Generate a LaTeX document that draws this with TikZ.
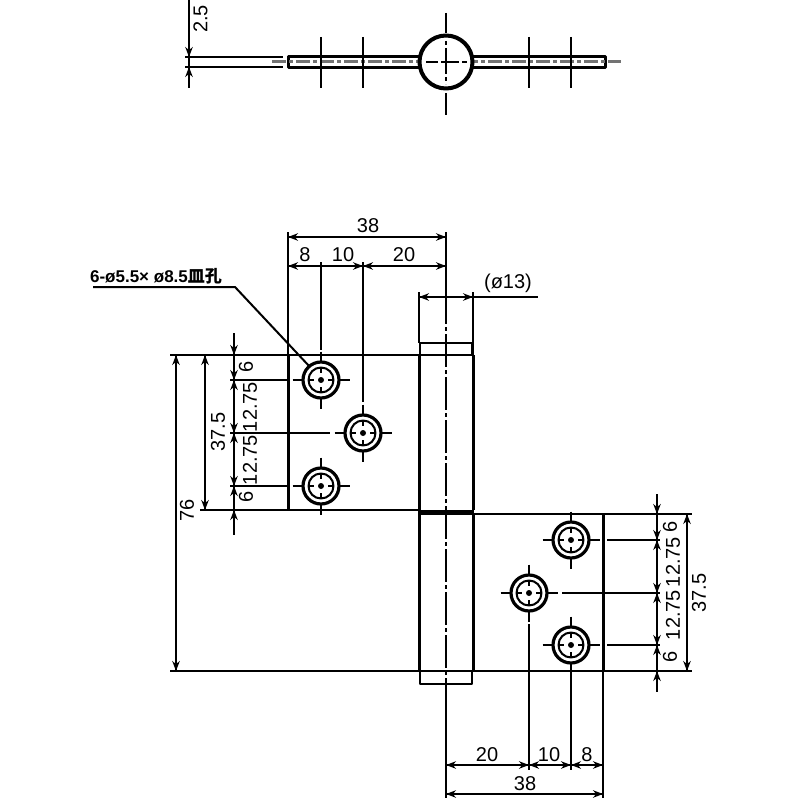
\documentclass[tikz,border=0pt]{standalone}
\usepackage{fontspec}
\setmainfont{Liberation Sans}
\newfontfamily\cjk{Noto Sans CJK JP}
\usetikzlibrary{arrows.meta}
\tikzset{
  edgeline/.style={line width=3pt},
  flatline/.style={line width=2.3pt},
  thinline/.style={line width=2pt},
  centreline/.style={line width=2pt, dash pattern=on 33pt off 3pt on 4pt off 3pt},
  dimtip/.style={line width=2pt, -{Stealth[length=10pt,width=7.5pt]}},
  dimtext/.style={font=\fontsize{20}{20}\selectfont, inner sep=0pt},
  sidetext/.style={dimtext, rotate=90}
}
\newcommand{\holemark}[2]{%
  \draw[line width=3.2pt] (#1,#2) circle (18);
  \draw[thinline] (#1,#2) circle (12.5);
  \fill (#1,#2) circle (3);
  \draw[thinline] (#1-28.5,#2)--(#1-18,#2) (#1+18,#2)--(#1+28.5,#2);
  \draw[thinline] (#1,#2-28.5)--(#1,#2-18) (#1,#2+18)--(#1,#2+28.5);
  \draw[line width=1.2pt] (#1-12,#2)--(#1-7,#2) (#1+7,#2)--(#1+12,#2) (#1,#2-12)--(#1,#2-7) (#1,#2+7)--(#1,#2+12);
}
\begin{document}
\begin{tikzpicture}[x=1pt,y=-1pt,line join=round]
\useasboundingbox (0,0) rectangle (800,800);
% top view
\draw[thinline] (185,57)--(283,57) (185,67)--(283,67);
\draw[thinline] (189,0)--(189,88);
\draw[dimtip] (189,45)--(189,57);
\draw[dimtip] (189,80)--(189,67);
\node[sidetext] (thickval) at (200.5,19) {2.5};
\draw[edgeline] (288,56.5) rectangle (605,67.5);
\draw[line width=3pt,black!55,dash pattern=on 14pt off 3pt on 4pt off 3pt] (272,62)--(621,62);
\foreach \x in {321,363,529,571} \draw[thinline] (\x,37)--(\x,88);
\draw[line width=4pt,fill=white] (446,62) circle (26.5);
\draw[thinline] (446,13)--(446,33) (446,93)--(446,115);
\draw[thinline,dash pattern=on 4pt off 3pt on 26pt off 3pt] (446,41)--(446,84);
\draw[thinline,dash pattern=on 12pt off 3pt on 18pt off 3pt] (426,62)--(467,62);
% left plate
\draw[edgeline] (288,355)--(288,510);
\draw[flatline] (288,510)--(419,510) (288,355)--(419,355);
\draw[edgeline] (419,355)--(419,510) (473,355)--(473,510);
\draw[flatline] (420,355)--(420,343)--(472,343)--(472,355)  (419,355)--(473,355);
\draw[line width=4.5pt] (418,512.5)--(474,512.5);
% right plate
\draw[edgeline] (419,514)--(419,671) (603,671)--(603,514) (473,514)--(473,671);
\draw[flatline] (419,671)--(603,671) (603,514)--(473,514);
\draw[flatline] (420,671)--(420,684)--(472,684)--(472,671);
% axis
\draw[centreline,dash phase=27pt] (446,232)--(446,707);
\draw[thinline] (446,232)--(446,322) (446,707)--(446,798);
% holes
\foreach \x/\y in {321/380,363/433,321/486,571/540,529/593,571/645} \holemark{\x}{\y}
% left dims
\draw[thinline] (170,355)--(288,355) (200,510)--(288,510) (170,671)--(419,671);
\draw[thinline] (230,380)--(287,380) (230,433)--(330,433) (230,486)--(287,486);
\draw[thinline] (176,355)--(176,671) (205,355)--(205,510) (234,333)--(234,535);
\foreach \y in {355,671} \draw[dimtip] (176,{\y+(\y==355?14:-14)})--(176,\y);
\foreach \y in {355,510} \draw[dimtip] (205,{\y+(\y==355?14:-14)})--(205,\y);
\foreach \y in {355,380,433,486} \draw[dimtip] (234,\y-11)--(234,\y);
\foreach \y in {380,433,486,510} \draw[dimtip] (234,\y+11)--(234,\y);
\node[sidetext] (lefttotal) at (187,510) {76};
\node[sidetext] (leftpitch) at (218,432) {37.5};
\node[sidetext] (leftsixa) at (246,367) {6};
\node[sidetext] (leftgapa) at (250,407) {12.75};
\node[sidetext] (leftgapb) at (250,460) {12.75};
\node[sidetext] (leftsixb) at (246,497) {6};
% top dims
\draw[thinline] (288,232)--(288,355) (321,262)--(321,350) (363,262)--(363,402);
\draw[thinline] (288,237)--(446,237) (288,266)--(446,266);
\draw[dimtip] (302,237)--(288,237);
\draw[dimtip] (432,237)--(446,237);
\draw[dimtip] (302,266)--(288,266);
\draw[dimtip] (349,266)--(363,266);
\draw[dimtip] (377,266)--(363,266);
\draw[dimtip] (432,266)--(446,266);
\node[dimtext] (topwidth) at (368,226) {38};
\node[dimtext] (topeight) at (305,255) {8};
\node[dimtext] (topten) at (343,255) {10};
\node[dimtext] (toptwenty) at (404,255) {20};
% pin dim
\draw[thinline] (419,292)--(419,343) (473,292)--(473,355);
\draw[thinline] (419,297)--(538,297);
\draw[dimtip] (433,297)--(419,297);
\draw[dimtip] (459,297)--(473,297);
\node[dimtext] (pinval) at (508,283) {(ø13)};
% leader
\coordinate (leadstart) at (93,287);
\coordinate (leadknee) at (235,287);
\coordinate (leadend) at (310,367);
\draw[thinline] (leadstart)--(leadknee)--(leadend);
\node[inner sep=0pt,font=\fontsize{17}{17}\selectfont\bfseries] (holenote) at (156,276) {6-ø5.5× ø8.5{\cjk 皿孔}};
% right dims
\draw[thinline] (603,514)--(692,514) (603,671)--(692,671);
\draw[thinline] (607,540)--(660,540) (562,593)--(660,593) (607,645)--(660,645);
\draw[thinline] (657,494)--(657,692) (687,514)--(687,671);
\foreach \y in {514,540,593,645} \draw[dimtip] (657,\y-11)--(657,\y);
\foreach \y in {540,593,645,671} \draw[dimtip] (657,\y+11)--(657,\y);
\draw[dimtip] (687,528)--(687,514);
\draw[dimtip] (687,657)--(687,671);
\node[sidetext] (rightsixa) at (670,527) {6};
\node[sidetext] (rightgapa) at (673,562) {12.75};
\node[sidetext] (rightgapb) at (673,615) {12.75};
\node[sidetext] (rightsixb) at (670,657) {6};
\node[sidetext] (rightpitch) at (699,593) {37.5};
% bottom dims
\draw[thinline] (529,624)--(529,770) (571,671)--(571,770) (603,671)--(603,798);
\draw[thinline] (446,765)--(603,765) (446,794)--(603,794);
\draw[dimtip] (460,765)--(446,765);
\draw[dimtip] (518,765)--(529,765);
\draw[dimtip] (540,765)--(529,765);
\draw[dimtip] (560,765)--(571,765);
\draw[dimtip] (582,765)--(571,765);
\draw[dimtip] (592,765)--(603,765);
\draw[dimtip] (460,794)--(446,794);
\draw[dimtip] (589,794)--(603,794);
\node[dimtext] (bottomtwenty) at (487,755) {20};
\node[dimtext] (bottomten) at (549,755) {10};
\node[dimtext] (bottomeight) at (587,755) {8};
\node[dimtext] (bottomwidth) at (525,784) {38};
\end{tikzpicture}
\end{document}
